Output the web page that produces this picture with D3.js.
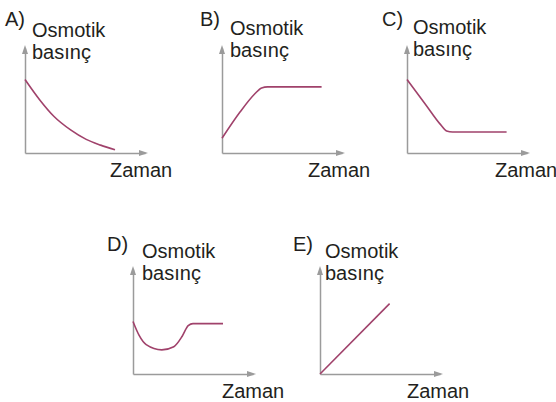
<!DOCTYPE html>
<html>
<head>
<meta charset="utf-8">
<script src="https://cdn.jsdelivr.net/npm/d3@7"></script>
<style>
  html, body { margin: 0; padding: 0; background: #fff; }
  text { font-family: 'Liberation Sans', Arial, sans-serif; fill: #231f20; }
</style>
</head>
<body>
<div id="chart"></div>
<script>
// option letters and axis texts
const letters = ['A)', 'B)', 'C)', 'D)', 'E)'];
const yTitle = ['Osmotik', 'basınç'];
const xTitle = 'Zaman';

// curves: [time, osmotic pressure] in 0–100 units
const seriesA = [[0, 70], [12, 51], [24, 35], [38, 22], [51, 13], [63, 7.5], [75, 3]];
const seriesB = [[0, 14], [15, 39], [27, 56], [33, 62], [38, 63], [83, 63]];
const seriesC = [[0, 70], [15, 47], [28, 27], [33, 21], [38, 20], [83, 20]];
const seriesD = [[0, 50], [5, 37], [11, 28], [24, 23], [34, 26], [41, 36], [46, 46], [50, 48], [75, 48]];
const seriesE = [[0, 0], [58, 67]];
const allSeries = [seriesA, seriesB, seriesC, seriesD, seriesE];

// panel layout (axis origin + label offsets)
const panels = [
  { ox: 25,  oy: 153, lx: -20, ly: -127, tx: 7, ty: -116, zx: 85 },
  { ox: 222, oy: 153, lx: -22, ly: -127, tx: 8, ty: -118, zx: 86 },
  { ox: 407, oy: 153, lx: -25, ly: -127, tx: 6, ty: -119, zx: 88 },
  { ox: 133, oy: 374, lx: -26, ly: -123, tx: 9, ty: -116, zx: 89 },
  { ox: 320, oy: 374, lx: -27, ly: -123, tx: 5, ty: -116, zx: 87 }
];

const W = 556, H = 402;
const axisColor = '#9b9b9b', lineColor = '#a0426b';

const svg = d3.select('#chart').append('svg').attr('width', W).attr('height', H);

const x = d3.scaleLinear().domain([0, 100]).range([0, 120]);
const y = d3.scaleLinear().domain([0, 100]).range([0, -105]);
const line = d3.line().x(d => x(d[0])).y(d => y(d[1])).curve(d3.curveMonotoneX);

panels.forEach((p, i) => {
  const g = svg.append('g').attr('transform', `translate(${p.ox},${p.oy})`);

  // axes (domain line only)
  g.append('g')
    .call(d3.axisBottom(x).ticks(0).tickSizeOuter(0))
    .call(a => a.select('.domain').attr('stroke', axisColor).attr('stroke-width', 1.5));
  g.append('g')
    .call(d3.axisLeft(y).ticks(0).tickSizeOuter(0))
    .call(a => a.select('.domain').attr('stroke', axisColor).attr('stroke-width', 1.5));

  // arrow heads
  const xe = x.range()[1], ye = y.range()[1];
  g.append('path').attr('fill', axisColor)
    .attr('d', `M${xe - 6},-3L${xe + 3},0L${xe - 6},3Z`);
  g.append('path').attr('fill', axisColor)
    .attr('d', `M-3,${ye + 6}L0,${ye - 3}L3,${ye + 6}Z`);

  // curve
  g.append('path').datum(allSeries[i])
    .attr('fill', 'none').attr('stroke', lineColor).attr('stroke-width', 1.6)
    .attr('d', line);

  // texts
  g.append('text').attr('x', p.lx).attr('y', p.ly).attr('font-size', '20px').text(letters[i]);
  g.append('text').attr('x', p.tx).attr('y', p.ty).attr('font-size', '20px').text(yTitle[0]);
  g.append('text').attr('x', p.tx).attr('y', p.ty + 22).attr('font-size', '20px').text(yTitle[1]);
  g.append('text').attr('x', p.zx).attr('y', 24).attr('font-size', '20px').text(xTitle);
});
</script>
</body>
</html>
